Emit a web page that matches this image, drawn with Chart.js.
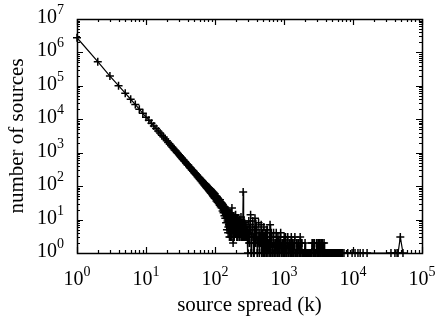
<!DOCTYPE html>
<html>
<head>
<meta charset="utf-8">
<script src="https://cdn.jsdelivr.net/npm/chart.js@4"></script>
<style>
  html, body { margin: 0; padding: 0; background: #fff; }
  canvas { display: block; }
</style>
</head>
<body>
<canvas id="chart" width="436" height="322"></canvas>
<script>
// source spread k = 1..100, one point per k
const headSpread = [
  1, 2, 3, 4, 5, 6, 7, 8, 9, 10, 11, 12, 13, 14, 15, 16, 17, 18, 19, 20,
  21, 22, 23, 24, 25, 26, 27, 28, 29, 30, 31, 32, 33, 34, 35, 36, 37, 38, 39, 40,
  41, 42, 43, 44, 45, 46, 47, 48, 49, 50, 51, 52, 53, 54, 55, 56, 57, 58, 59, 60,
  61, 62, 63, 64, 65, 66, 67, 68, 69, 70, 71, 72, 73, 74, 75, 76, 77, 78, 79, 80,
  81, 82, 83, 84, 85, 86, 87, 88, 89, 90, 91, 92, 93, 94, 95, 96, 97, 98, 99, 100
];
const headSources = [
  2750000, 530000, 196000, 101000, 60500, 39800, 27600, 20100, 15100, 11600,
  9400, 7650, 6300, 5280, 4490, 3870, 3330, 2930, 2570, 2270,
  2030, 1810, 1640, 1470, 1345, 1215, 1120, 1020, 945, 865,
  810, 740, 698, 641, 608, 560, 533, 492, 471, 436,
  419, 386, 376, 345, 338, 310, 305, 280, 277, 252,
  251, 230, 231, 210, 211, 192, 194, 175, 180, 160,
  168, 148, 156, 137, 145, 126, 135, 117, 127, 109,
  120, 101, 113, 94, 106, 88, 99, 83, 94, 78,
  89, 73, 85, 69, 81, 65, 77, 61, 73, 58,
  70, 54, 67, 51, 64, 48, 61, 45, 59, 43
];

// noisy middle part, k = 100..300
const midSpread = [
  102, 104, 106, 108, 110, 112, 114, 116, 118, 120, 122, 124, 126, 128, 130, 132, 134, 136, 138, 140,
  142, 144, 146, 148, 150, 152, 154, 156, 158, 160, 162, 164, 166, 168, 170, 172, 174, 176, 178, 180,
  183, 186, 189, 192, 195, 198, 201, 204, 207, 210, 213, 216, 219, 222, 225, 228, 231, 234, 237, 240,
  243, 246, 249, 252, 256, 259, 262, 265, 268, 271, 274, 277, 280, 283, 286, 289, 292, 295, 298
];
const midSources = [
  52, 41, 47, 38, 44, 35, 40, 31, 39, 29, 33, 26, 31, 23, 28, 21, 25, 18, 24, 16,
  22, 14, 20, 12, 19, 9, 17, 6, 15, 11, 3, 14, 8, 12, 4, 10, 13, 22, 7, 9,
  2, 11, 5, 8, 13, 4, 9, 6, 3, 10, 5, 7, 4, 8, 3, 6, 9, 4, 5, 3,
  7, 4, 6, 3, 67, 4, 5, 3, 8, 4, 3, 6, 4, 3, 5, 3, 4, 3, 5
];
const midExtraSpread = [
  101, 103, 105, 107, 109, 111, 113, 115, 117, 119, 121, 123, 125, 127, 129, 131, 133, 135, 137, 139,
  141, 143, 145, 147, 149, 151, 153, 155, 157, 159, 161, 163, 165, 167, 169, 171, 173, 175, 177, 179,
  184, 187, 190, 193, 196, 199, 202, 205, 208, 211, 214, 217, 220, 223, 226, 229, 232, 235, 238, 241,
  244, 247, 250, 254, 257, 260, 263, 266, 269, 272, 275, 278, 281, 284, 287, 290, 293, 296, 299
];
const midExtraSources = [
  46, 49, 36, 45, 33, 41, 30, 36, 27, 34, 24, 30, 22, 27, 18, 25, 16, 23, 13, 20,
  11, 19, 8, 17, 5, 15, 12, 4, 14, 7, 12, 5, 16, 3, 11, 6, 9, 3, 12, 5,
  8, 12, 3, 10, 6, 14, 4, 11, 5, 8, 3, 9, 6, 4, 10, 3, 7, 5, 12, 4,
  8, 3, 5, 4, 6, 3, 9, 4, 3, 7, 4, 3, 5, 4, 3, 6, 3, 4, 3
];

// long tail, k > 300
const tailSpread = [
  300, 309, 318, 328, 338, 348, 358, 369, 380, 391, 403, 415, 428, 441,
  454, 467, 481, 496, 511, 526, 542, 558, 575, 592, 610, 628, 647, 666, 686, 707,
  728, 750, 772, 795, 819, 844, 869, 895, 922, 950, 978, 1007, 1038, 1069, 1101,
  1134, 1168, 1203, 1239, 1276, 1315, 1354, 1395, 1437, 1480, 1524, 1570, 1617, 1666, 1716, 1767, 1820, 1875,
  1931, 1989, 2049, 2110, 2173, 2238, 2306, 2375, 2446, 2519, 2595, 2673, 2753, 2836, 2921, 3008,
  3098, 3191, 3287, 3386, 3487, 3592, 3699, 3810, 3925,
  4042, 4164, 4289, 4417, 4550, 4686, 4827, 4972, 5121, 5275, 5433, 5596, 5764, 5937, 6115, 6298,
  6487, 6682, 6883, 7089,
  7400, 8400, 9700, 10700, 11800, 12700, 14000, 16000,
  35500, 40500, 43500, 45000, 48500, 53000
];
const tailSources = [
  1, 9, 2, 14, 1, 6, 3, 1, 11, 2, 5, 1, 8, 1,
  3, 7, 1, 2, 6, 1, 4, 1, 5, 2, 1, 7, 1, 3, 1, 4,
  1, 2, 4, 1, 3, 1, 2, 4, 1, 2, 1, 3, 1, 2, 1,
  3, 1, 2, 1, 3, 1, 2, 1, 3, 1, 2, 1, 2, 1, 3, 1, 2, 1,
  1, 1, 1, 1, 1, 1, 1, 1, 1, 1, 2, 1, 2, 1, 1, 2,
  1, 1, 2, 1, 2, 1, 1, 2, 1,
  1, 1, 1, 1, 1, 1, 1, 1, 1, 1, 1, 1, 1, 1, 1, 1,
  1, 1, 1, 1,
  1, 1, 1, 1, 1, 1, 1, 1,
  1, 1, 1, 1, 3, 1
];
const tailExtraSpread = [
  304, 313, 323, 333, 343, 353, 363, 374, 385, 397,
  409, 421, 434, 447, 460, 474, 488, 503, 518, 534,
  550, 566, 583, 601, 619, 637, 656, 676, 696, 717,
  739, 761, 783, 807, 831, 856, 882, 908, 936, 964,
  992, 1022, 1053, 1085, 1117, 1151, 1185, 1221, 1257, 1295,
  1334, 1374, 1416, 1458, 1502, 1547, 1593, 1641, 1691, 1741,
  1793, 1847, 1903, 1960, 2019, 2079, 2141, 2205, 2272, 2340,
  2410, 2482, 2557, 2634, 2713, 2794, 2878, 2964, 3053, 3144,
  3239, 3336, 3436, 3539, 3645, 3754, 3867, 3983, 4103, 4226,
  4353, 4483, 4618, 4756, 4899, 5046, 5197, 5353, 5514, 5680,
  5850, 6026, 6206, 6392, 6584, 6782, 6986
];
const tailExtraSources = [
  4, 2, 7, 1, 3, 9, 1, 5, 2, 6,
  1, 3, 2, 4, 2, 1, 4, 1, 3, 2,
  1, 5, 1, 2, 3, 1, 4, 1, 2, 1,
  2, 1, 3, 1, 2, 1, 3, 1, 2, 1,
  2, 1, 3, 1, 2, 1, 2, 1, 2, 1,
  2, 1, 2, 1, 1, 2, 1, 2, 1, 1,
  2, 1, 1, 1, 2, 1, 1, 1, 1, 1,
  1, 1, 2, 1, 2, 1, 1, 2, 1, 2,
  1, 2, 1, 1, 2, 1, 1, 1, 1, 1,
  1, 1, 1, 1, 1, 1, 1, 1, 1, 1,
  1, 1, 1, 1, 1, 1, 1
];

const xExponents = [0, 1, 2, 3, 4, 5];
const yExponents = [0, 1, 2, 3, 4, 5, 6, 7];
const xTitle = 'source spread (k)';
const yTitle = 'number of sources';

const FONT = '"Liberation Serif", "Times New Roman", serif';

function toPoints(xs, ys) {
  return xs.map(function (k, i) { return { x: k, y: ys[i] }; });
}

const points = toPoints(headSpread, headSources)
  .concat(toPoints(midSpread, midSources))
  .concat(toPoints(midExtraSpread, midExtraSources))
  .concat(toPoints(tailSpread, tailSources))
  .concat(toPoints(tailExtraSpread, tailExtraSources))
  .sort(function (a, b) { return a.x - b.x; });

// 10^n label with a raised exponent
function drawPower(ctx, exp, x, y, align) {
  ctx.font = '20px ' + FONT;
  const wBase = ctx.measureText('10').width;
  ctx.font = '14px ' + FONT;
  const wExp = ctx.measureText(String(exp)).width;
  const total = wBase + wExp;
  let left = align === 'right' ? x - total : x - total / 2;
  ctx.textAlign = 'left';
  ctx.textBaseline = 'alphabetic';
  ctx.font = '20px ' + FONT;
  ctx.fillText('10', left, y);
  ctx.font = '14px ' + FONT;
  ctx.fillText(String(exp), left + wBase, y - 9);
}

const gnuplotFrame = {
  id: 'gnuplotFrame',
  afterDatasetsDraw(chart) {
    const ctx = chart.ctx;
    const a = chart.chartArea;
    const sx = chart.scales.x, sy = chart.scales.y;
    ctx.save();
    ctx.strokeStyle = '#000';
    ctx.lineWidth = 1.5;
    ctx.strokeRect(a.left + 0.5, a.top + 0.5, a.right - a.left, a.bottom - a.top);

    ctx.lineWidth = 1.2;
    ctx.beginPath();
    xExponents.forEach(function (e, i) {
      const p = Math.round(sx.getPixelForValue(Math.pow(10, e))) + 0.5;
      ctx.moveTo(p, a.bottom); ctx.lineTo(p, a.bottom - 6);
      ctx.moveTo(p, a.top); ctx.lineTo(p, a.top + 6);
      if (i < xExponents.length - 1) {
        for (let m = 2; m <= 9; m++) {
          const q = Math.round(sx.getPixelForValue(m * Math.pow(10, e))) + 0.5;
          ctx.moveTo(q, a.bottom); ctx.lineTo(q, a.bottom - 3);
          ctx.moveTo(q, a.top); ctx.lineTo(q, a.top + 3);
        }
      }
    });
    yExponents.forEach(function (e, i) {
      const p = Math.round(sy.getPixelForValue(Math.pow(10, e))) + 0.5;
      ctx.moveTo(a.left, p); ctx.lineTo(a.left + 6, p);
      ctx.moveTo(a.right, p); ctx.lineTo(a.right - 6, p);
      if (i < yExponents.length - 1) {
        for (let m = 2; m <= 9; m++) {
          const q = Math.round(sy.getPixelForValue(m * Math.pow(10, e))) + 0.5;
          ctx.moveTo(a.left, q); ctx.lineTo(a.left + 3, q);
          ctx.moveTo(a.right, q); ctx.lineTo(a.right - 3, q);
        }
      }
    });
    ctx.stroke();
    ctx.restore();
  },
  afterDraw(chart) {
    const ctx = chart.ctx;
    const a = chart.chartArea;
    const sx = chart.scales.x, sy = chart.scales.y;
    ctx.save();
    ctx.fillStyle = '#000';
    xExponents.forEach(function (e) {
      drawPower(ctx, e, sx.getPixelForValue(Math.pow(10, e)), a.bottom + 32, 'center');
    });
    yExponents.forEach(function (e) {
      drawPower(ctx, e, a.left - 13, sy.getPixelForValue(Math.pow(10, e)) + 4, 'right');
    });

    ctx.font = '21px ' + FONT;
    ctx.textAlign = 'center';
    ctx.textBaseline = 'alphabetic';
    ctx.fillText(xTitle, (a.left + a.right) / 2, 311);

    ctx.translate(23, (a.top + a.bottom) / 2);
    ctx.rotate(-Math.PI / 2);
    ctx.fillText(yTitle, 0, 0);
    ctx.restore();
  }
};

new Chart(document.getElementById('chart').getContext('2d'), {
  type: 'scatter',
  data: {
    datasets: [{
      data: points,
      showLine: true,
      borderColor: '#000',
      borderWidth: 1.2,
      tension: 0,
      pointStyle: 'cross',
      pointRadius: 4,
      pointBorderWidth: 1.5,
      pointBorderColor: '#000',
      clip: false
    }]
  },
  options: {
    responsive: false,
    animation: false,
    events: [],
    layout: { padding: { left: 77, right: 14, top: 19, bottom: 69 } },
    plugins: { legend: { display: false }, tooltip: { enabled: false } },
    scales: {
      x: { type: 'logarithmic', min: 1, max: 100000, display: false },
      y: { type: 'logarithmic', min: 1, max: 10000000, display: false }
    }
  },
  plugins: [gnuplotFrame]
});
</script>
</body>
</html>
